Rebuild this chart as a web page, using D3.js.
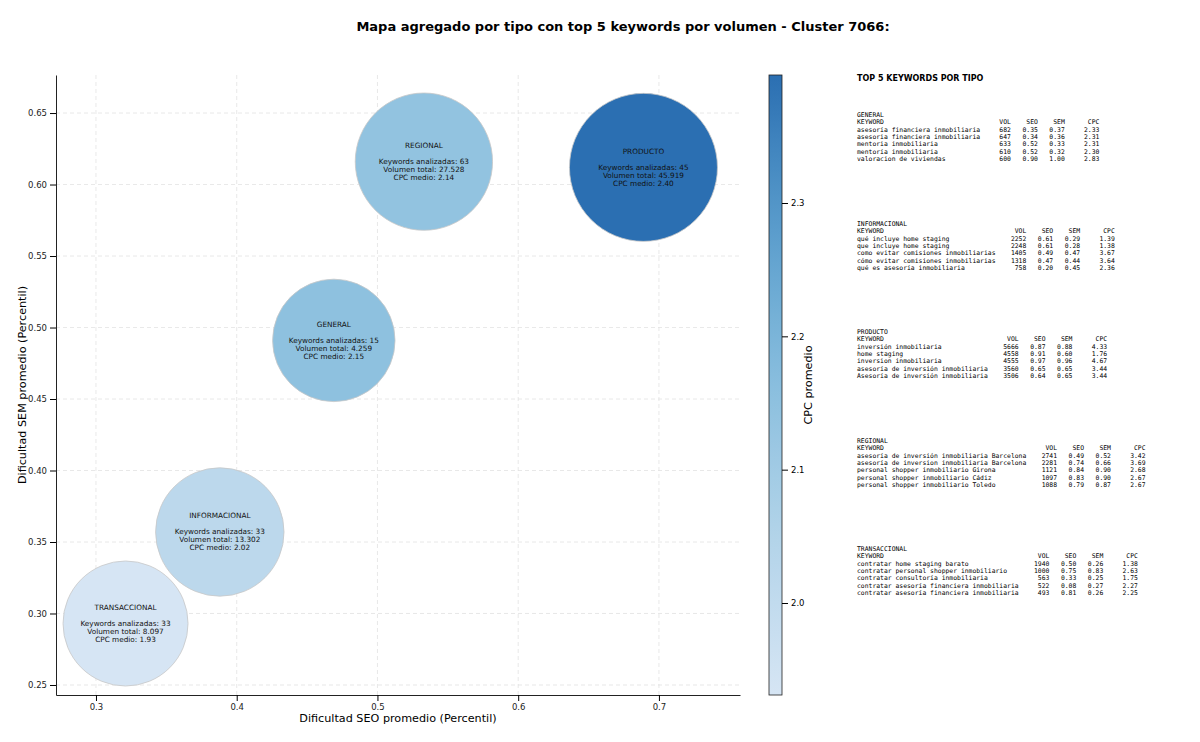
<!DOCTYPE html>
<html><head><meta charset="utf-8">
<script src="https://cdn.jsdelivr.net/npm/d3@7/dist/d3.min.js"></script>
<style>body{margin:0;background:#fff}</style></head>
<body><svg id="c" width="1200" height="742"></svg>
<script>
const types = ["TRANSACCIONAL","INFORMACIONAL","GENERAL","REGIONAL","PRODUCTO"];
const seoAvg = [0.321,0.388,0.469,0.533,0.689];
const semAvg = [0.293,0.357,0.491,0.616,0.612];
const kwCount = [33,33,15,63,45];
const volTotal = ["8.097","13.302","4.259","27.528","45.919"];
const volNum = [8097,13302,4259,27528,45919];
const cpcAvg = [1.93,2.02,2.15,2.14,2.40];
const xTicks = [0.3,0.4,0.5,0.6,0.7];
const yTicks = [0.25,0.30,0.35,0.40,0.45,0.50,0.55,0.60,0.65];
const cTicks = [2.0,2.1,2.2,2.3];
const tableOrder = ["GENERAL","INFORMACIONAL","PRODUCTO","REGIONAL","TRANSACCIONAL"];
const tables = {
 GENERAL:[["asesoría financiera inmobiliaria",682,"0.35","0.37","2.33"],["asesoria financiera inmobiliaria",647,"0.34","0.36","2.31"],["mentoria inmobiliaria",633,"0.52","0.33","2.31"],["mentoría inmobiliaria",610,"0.52","0.32","2.30"],["valoracion de viviendas",600,"0.90","1.00","2.83"]],
 INFORMACIONAL:[["qué incluye home staging",2252,"0.61","0.29","1.39"],["que incluye home staging",2248,"0.61","0.28","1.38"],["como evitar comisiones inmobiliarias",1405,"0.49","0.47","3.67"],["cómo evitar comisiones inmobiliarias",1318,"0.47","0.44","3.64"],["qué es asesoría inmobiliaria",758,"0.20","0.45","2.36"]],
 PRODUCTO:[["inversión inmobiliaria",5666,"0.87","0.88","4.33"],["home staging",4558,"0.91","0.60","1.76"],["inversion inmobiliaria",4555,"0.97","0.96","4.67"],["asesoría de inversión inmobiliaria",3560,"0.65","0.65","3.44"],["Asesoría de inversión inmobiliaria",3506,"0.64","0.65","3.44"]],
 REGIONAL:[["asesoría de inversión inmobiliaria Barcelona",2741,"0.49","0.52","3.42"],["asesoría de inversion inmobiliaria Barcelona",2281,"0.74","0.66","3.69"],["personal shopper inmobiliario Girona",1121,"0.84","0.90","2.68"],["personal shopper inmobiliario Cádiz",1097,"0.83","0.90","2.67"],["personal shopper inmobiliario Toledo",1088,"0.79","0.87","2.67"]],
 TRANSACCIONAL:[["contratar home staging barato",1940,"0.50","0.26","1.38"],["contratar personal shopper inmobiliario",1000,"0.75","0.83","2.63"],["contratar consultoría inmobiliaria",563,"0.33","0.25","1.75"],["contratar asesoría financiera inmobiliaria",522,"0.08","0.27","2.27"],["contratar asesoría financiera inmobiliaria",493,"0.81","0.26","2.25"]]
};

const svg = d3.select("#c");
const F = "DejaVu Sans, sans-serif";
const L=56,R=740,T=75,B=695;
const x = d3.scaleLinear().domain([0.2716,0.7576]).range([L,R]);
const y = d3.scaleLinear().domain([0.243,0.6766]).range([B,T]);
const cmin=1.931,cmax=2.396;
const interp = d3.interpolateRgbBasis(["#d6e5f4","#a9cfe6","#6aaed6","#2b6fb2"]);
const col = v => interp((v-cmin)/(cmax-cmin));
const rad = v => Math.sqrt(3750 + (5476-3750)*(v-4259)/(45919-4259));

svg.append("text").attr("x",623).attr("y",31).attr("text-anchor","middle").attr("font-family",F).attr("font-size",13).attr("font-weight","bold").text("Mapa agregado por tipo con top 5 keywords por volumen - Cluster 7066:");

const g = svg.append("g");
xTicks.forEach(t=>g.append("line").attr("x1",x(t)).attr("x2",x(t)).attr("y1",T).attr("y2",B).attr("stroke","#e2e2e2").attr("stroke-dasharray","4,3").attr("stroke-width",0.8));
yTicks.forEach(t=>g.append("line").attr("x1",L).attr("x2",R).attr("y1",y(t)).attr("y2",y(t)).attr("stroke","#e2e2e2").attr("stroke-dasharray","4,3").attr("stroke-width",0.8));

types.forEach((t,i)=>{
  const cx=x(seoAvg[i]), cy=y(semAvg[i]);
  g.append("circle").attr("cx",cx).attr("cy",cy).attr("r",rad(volNum[i])).attr("fill",col(cpcAvg[i])).attr("stroke","#c8c8c8").attr("stroke-width",0.8);
  const lines=[[t,-16],["Keywords analizadas: "+kwCount[i],0],["Volumen total: "+volTotal[i],8],["CPC medio: "+cpcAvg[i].toFixed(2),16]];
  lines.forEach(([s,dy])=>g.append("text").attr("x",cx).attr("y",cy+dy+2.5).attr("text-anchor","middle").attr("font-family",F).attr("font-size",7.3).attr("fill","#111").text(s));
});

const xa = svg.append("g").attr("transform",`translate(0,${B})`).call(d3.axisBottom(x).tickValues(xTicks).tickFormat(d3.format("")).tickSizeOuter(0));
const ya = svg.append("g").attr("transform",`translate(${L},0)`).call(d3.axisLeft(y).tickValues(yTicks).tickFormat(d3.format(".2f")).tickSizeOuter(0));
[xa,ya].forEach(a=>{a.selectAll("text").attr("font-family",F).attr("font-size",8.5).attr("fill","#222");a.select(".domain").attr("stroke","#222");});
svg.append("text").attr("x",398).attr("y",722).attr("text-anchor","middle").attr("font-family",F).attr("font-size",11.2).text("Dificultad SEO promedio (Percentil)");
svg.append("text").attr("transform","translate(26,385) rotate(-90)").attr("text-anchor","middle").attr("font-family",F).attr("font-size",11.2).text("Dificultad SEM promedio (Percentil)");

const defs=svg.append("defs");
const gr=defs.append("linearGradient").attr("id","cb").attr("x1",0).attr("x2",0).attr("y1",1).attr("y2",0);
d3.range(0,1.01,0.05).forEach(o=>gr.append("stop").attr("offset",o).attr("stop-color",interp(o)));
svg.append("rect").attr("x",769).attr("y",T).attr("width",13).attr("height",B-T).attr("fill","url(#cb)").attr("stroke","#222").attr("stroke-width",0.8);
const cs=d3.scaleLinear().domain([cmin,cmax]).range([B,T]);
const ca=svg.append("g").attr("transform","translate(782,0)").call(d3.axisRight(cs).tickValues(cTicks).tickFormat(d3.format(".1f")).tickSizeOuter(0));
ca.select(".domain").remove();
ca.selectAll("text").attr("font-family",F).attr("font-size",8.5);
svg.append("text").attr("transform","translate(812,385) rotate(-90)").attr("text-anchor","middle").attr("font-family",F).attr("font-size",11.2).text("CPC promedio");

const M="DejaVu Sans Mono, monospace";
svg.append("text").attr("x",857).attr("y",81).attr("font-family",F).attr("font-size",8).attr("font-weight","bold").text("TOP 5 KEYWORDS POR TIPO");
const tops=[117,226,334,443,551];
const nb = s => s.replace(/ /g,"\u00A0");
tableOrder.forEach((t,k)=>{
  const rows=tables[t];
  const w=Math.max(7,...rows.map(r=>r[0].length));
  const lines=[t,"KEYWORD".padEnd(w)+"VOL".padStart(8)+"SEO".padStart(7)+"SEM".padStart(7)+"CPC".padStart(9)];
  rows.forEach(r=>lines.push(r[0].padEnd(w)+String(r[1]).padStart(8)+r[2].padStart(7)+r[3].padStart(7)+r[4].padStart(9)));
  lines.forEach((s,j)=>svg.append("text").attr("x",857).attr("y",tops[k]+j*7.33).attr("font-family",M).attr("font-size",6.4).text(nb(s)));
});
</script></body></html>
